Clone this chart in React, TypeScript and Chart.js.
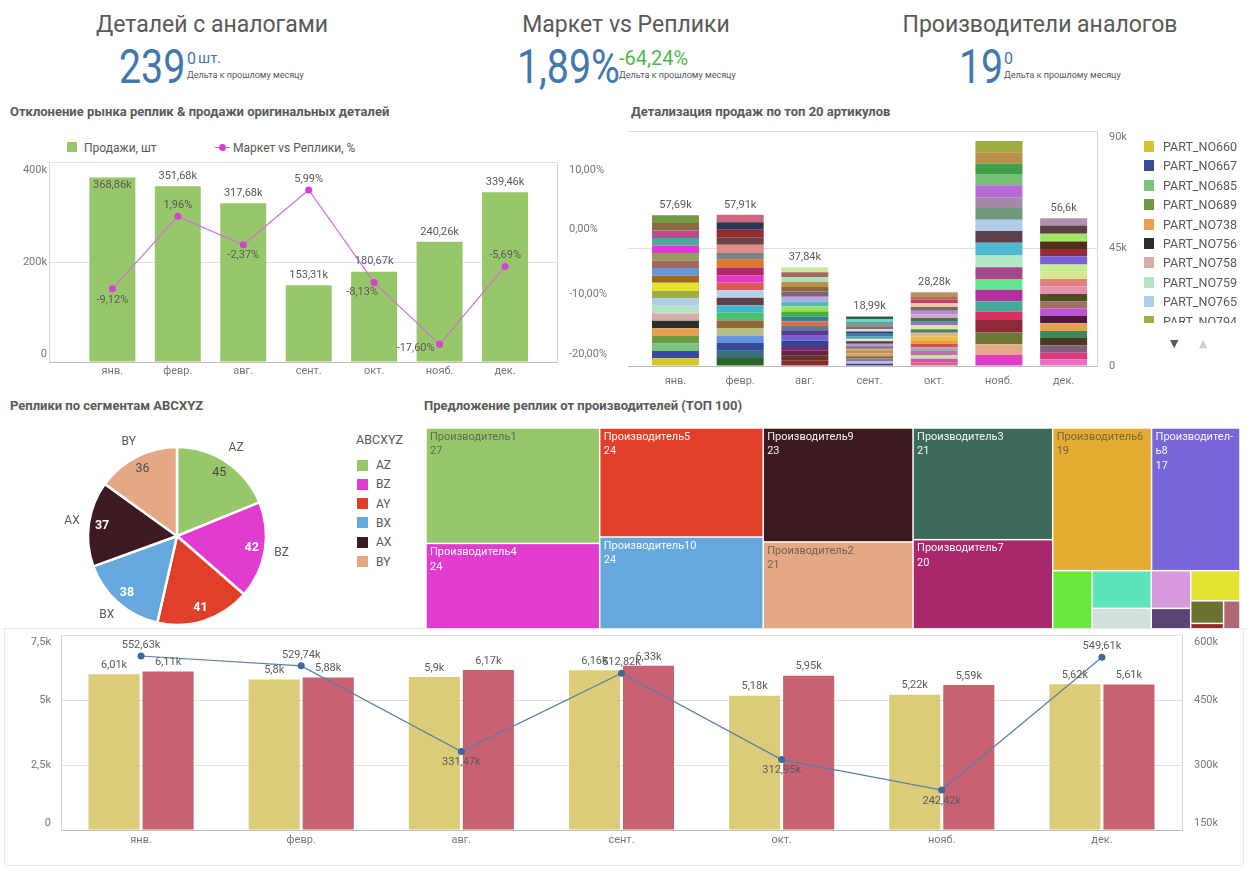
import React, { useEffect, useRef } from 'react';
import { Chart, registerables } from 'chart.js';

Chart.register(...registerables);

const FONT = 'Roboto, "Noto Sans", "DejaVu Sans", sans-serif';
const TXT = '#595959';
const AXIS = '#777777';
const GRID = '#e0e0e0';
const FRAME = '#d6d6d6';
const AXIS_LINE = '#bcbcbc';

// ---------------- KPI ----------------
const kpiTitles = ['Деталей с аналогами', 'Маркет vs Реплики', 'Производители аналогов'];
const kpiMain = ['239', '1,89%', '19'];
const kpiDelta = ['0', '-64,24%', '0'];
const kpiUnit = 'шт.';
const kpiNote = 'Дельта к прошлому месяцу';

// ---------------- Chart 1: sales vs market deviation ----------------
const months = ['янв.', 'февр.', 'авг.', 'сент.', 'окт.', 'нояб.', 'дек.'];
const salesUnits = [368860, 351680, 317680, 153310, 180670, 240260, 339460];
const marketVsReplicasPct = [-9.12, 1.96, -2.37, 5.99, -8.13, -17.6, -5.69];
const pctAxisTicks = [10, 0, -10, -20];

// ---------------- Chart 2: top 20 parts ----------------
const partNames = [
  'PART_NO660', 'PART_NO667', 'PART_NO685', 'PART_NO689', 'PART_NO738',
  'PART_NO756', 'PART_NO758', 'PART_NO759', 'PART_NO765', 'PART_NO794',
  'PART_NO801', 'PART_NO812', 'PART_NO826', 'PART_NO833', 'PART_NO847',
  'PART_NO852', 'PART_NO869', 'PART_NO871', 'PART_NO888', 'PART_NO903',
];
const topPartsJan = [2950, 2800, 2900, 2850, 2950, 2900, 2800, 2950, 2850, 2800, 3100, 2750, 2900, 2850, 2950, 2850, 2900, 2800, 2950, 2890];
const topPartsFeb = [3050, 2800, 2950, 2850, 2900, 2850, 2950, 2900, 2850, 2950, 2900, 2850, 2950, 2900, 2850, 2900, 2950, 2850, 2900, 2810];
const topPartsAug = [2050, 1850, 1950, 1800, 2000, 1900, 1850, 1950, 1750, 1900, 1850, 2000, 1800, 1900, 1950, 1800, 1850, 1900, 1850, 1940];
const topPartsSep = [900, 1000, 950, 900, 1000, 950, 900, 950, 1000, 900, 950, 1000, 950, 900, 950, 1000, 900, 950, 950, 990];
const topPartsOct = [1450, 1350, 1400, 1500, 1350, 1450, 1400, 1350, 1450, 1400, 1500, 1350, 1400, 1450, 1350, 1400, 1450, 1400, 1350, 1530];
const topPartsNov = [4230, 4100, 4490, 4750, 3340, 3850, 4490, 4100, 4490, 4490, 4870, 4490, 4360, 4490, 4100, 4620, 4230, 4100, 4230, 4360];
const topPartsDec = [2560, 2560, 2820, 2820, 2690, 2950, 2820, 2820, 2690, 2820, 2950, 2820, 2820, 2690, 3200, 2820, 2820, 2950, 3200, 2780];
const stackAxisTicks = [0, 45000, 90000];

const colorsJan = ['#d4c42e', '#3a4a94', '#7cc47c', '#6e9a44', '#e8a050', '#283028', '#d8aca4', '#b4e4c4', '#b0cce8', '#a0ac44', '#e4e430', '#a06a1c', '#6894d8', '#a06860', '#989c60', '#e038d4', '#50a898', '#b0508c', '#8c6a3c', '#749844'];
const colorsFeb = ['#2c6428', '#3c7078', '#34489c', '#6494dc', '#b8c080', '#906838', '#48c070', '#48b4c8', '#604048', '#b4d0e8', '#e05858', '#e038c8', '#b02868', '#e07828', '#808080', '#e08c84', '#684448', '#982830', '#283850', '#d06880'];
const colorsAug = ['#902830', '#603820', '#682040', '#702878', '#304490', '#7860d0', '#583898', '#607890', '#d87050', '#3c8090', '#40b040', '#a0e060', '#50b8c8', '#b4a8e0', '#806080', '#8c6838', '#b89048', '#b0dcc0', '#a06a60', '#d0e8a0'];
const colorsSep = ['#303c80', '#c8b0d8', '#7880a0', '#806040', '#e0a060', '#b89050', '#c0b070', '#906080', '#b0a0d0', '#404040', '#e8e0d0', '#48a0b0', '#3c78b8', '#284068', '#d8d8e8', '#807060', '#909090', '#50a8a0', '#70d8c0', '#306040'];
const colorsOct = ['#e06080', '#d050c0', '#c8e0a0', '#c070b0', '#a8a8b0', '#d85050', '#e8a040', '#e8c030', '#e8b090', '#408860', '#e8e0a0', '#9070c8', '#387850', '#e0a0c0', '#a890d8', '#806858', '#e8c8b0', '#d03868', '#a87050', '#b89060'];
const colorsNov = ['#e03ccc', '#e4a888', '#6c7830', '#902838', '#d83060', '#48a898', '#b030a0', '#60e890', '#a84888', '#b0e8c8', '#50b8d0', '#604048', '#b0cce8', '#709878', '#a888a8', '#b868d8', '#78c078', '#40a048', '#b89048', '#a0ac40'];
const colorsDec = ['#e870c0', '#e03880', '#806078', '#4c3820', '#3c8858', '#e8a050', '#501840', '#c050d8', '#a07060', '#4c5020', '#e890b0', '#e08078', '#d8e890', '#c8ec90', '#7860d8', '#982838', '#503018', '#a0e860', '#604048', '#b090b0'];

// ---------------- Chart 3: pie ----------------
const segments = ['AZ', 'BZ', 'AY', 'BX', 'AX', 'BY'];
const segmentCounts = [45, 42, 41, 38, 37, 36];
const segmentColors = ['#98c66a', '#e03cd0', '#e0402a', '#64a8dc', '#3c1a20', '#e4a884'];

// ---------------- Chart 4: treemap ----------------
const producers = [
  'Производитель1', 'Производитель4', 'Производитель5', 'Производитель10', 'Производитель9',
  'Производитель2', 'Производитель3', 'Производитель7', 'Производитель6', 'Производитель8',
  'Производитель11', 'Производитель12', 'Производитель13', 'Производитель14', 'Производитель15',
  'Производитель16', 'Производитель17', 'Производитель18', 'Производитель19',
];
const producerCounts = [27, 24, 24, 24, 23, 21, 21, 20, 19, 17, 4, 3, 3, 2, 2, 2, 1, 1, 1];
const producerColors = [
  '#98c66a', '#e03cd0', '#e0402a', '#64a8dc', '#3c1a20', '#e4a884', '#3c6a58', '#a8286a', '#e4ac30', '#7866d8',
  '#68e840', '#5ce4bc', '#d4e0dc', '#d898dc', '#5c4478', '#e4e430', '#6c7030', '#902828', '#b06878',
];

// ---------------- Chart 5: bottom combo ----------------
const originalPrice = [6010, 5800, 5900, 6160, 5180, 5220, 5620];
const replicaPrice = [6110, 5880, 6170, 6330, 5950, 5590, 5610];
const marketVolume = [552630, 529740, 331470, 512820, 312950, 242420, 549610];
const priceAxisTicks = [0, 2500, 5000, 7500];
const volumeAxisTicks = [150000, 300000, 450000, 600000];

// label placement styles (not data)
const pctLabelPlace = ['below', 'above', 'below', 'above', 'belowLeft', 'left', 'above'];
const volLabelPlace = ['above', 'above', 'below', 'above', 'below', 'below', 'above'];
const PLACE: Record<string, [number, number]> = {
  above: [0, -11], below: [0, 11], belowLeft: [-12, 10], left: [-24, 4],
};

function fmtK(v: number): string {
  if (v === 0) return '0';
  const s = (v / 1000).toFixed(2).replace(/\.?0+$/, '');
  return s.replace('.', ',') + 'k';
}
function fmtPct(v: number): string {
  return v.toFixed(2).replace('.', ',') + '%';
}
const clamp = (v: number, a: number, b: number) => Math.max(a, Math.min(b, v));
function lum(hex: string): number {
  const n = parseInt(hex.slice(1), 16);
  const r = (n >> 16) & 255, g = (n >> 8) & 255, b = n & 255;
  return (0.299 * r + 0.587 * g + 0.114 * b) / 255;
}
const sum = (a: number[]) => a.reduce((s, v) => s + v, 0);

function drawYLabels(ctx: CanvasRenderingContext2D, scale: any, ca: any, side: 'left' | 'right', pad: number,
  fmt: (v: number) => string, clampTop: number, clampBottom: number) {
  ctx.textAlign = side === 'left' ? 'right' : 'left';
  const x = side === 'left' ? ca.left - pad : ca.right + pad;
  scale.ticks.forEach((t: any) => {
    const py = clamp(scale.getPixelForValue(t.value), ca.top + clampTop, ca.bottom - clampBottom);
    ctx.fillText(fmt(t.value), x, py);
  });
}

// ---------------- builders ----------------
function buildCombo(canvas: HTMLCanvasElement) {
  const plugin = {
    id: 'comboLabels',
    afterDraw(chart: any) {
      const { ctx, chartArea: ca } = chart;
      const { x, y, y2 } = chart.scales;
      ctx.save();
      ctx.font = `11px ${FONT}`;
      ctx.textBaseline = 'middle';
      ctx.fillStyle = AXIS;
      drawYLabels(ctx, y, ca, 'left', 2, fmtK, 8, 8);
      drawYLabels(ctx, y2, ca, 'right', 12, fmtPct, 8, 8);
      ctx.textAlign = 'center';
      months.forEach((m, i) => ctx.fillText(m, x.getPixelForValue(i), ca.bottom + 9));
      ctx.fillStyle = TXT;
      salesUnits.forEach((v, i) => {
        const px = x.getPixelForValue(i);
        const py = y.getPixelForValue(v);
        const inside = py - ca.top < 20;
        ctx.fillText(fmtK(v), px, inside ? py + 8 : py - 10);
      });
      marketVsReplicasPct.forEach((v, i) => {
        const [dx, dy] = PLACE[pctLabelPlace[i]];
        ctx.fillText(fmtPct(v), x.getPixelForValue(i) + dx, y2.getPixelForValue(v) + dy);
      });
      ctx.restore();
    },
  };
  return new Chart(canvas, {
    type: 'bar',
    data: {
      datasets: [
        {
          type: 'line', label: 'Маркет vs Реплики, %',
          data: marketVsReplicasPct.map((v, i) => ({ x: i, y: v })),
          yAxisID: 'y2', borderColor: '#cf72d4', borderWidth: 1.2,
          pointRadius: 3.5, pointBackgroundColor: '#d83fd2', pointBorderWidth: 0, order: 0,
        } as any,
        {
          type: 'bar', label: 'Продажи, шт',
          data: salesUnits.map((v, i) => ({ x: i, y: v })),
          yAxisID: 'y', backgroundColor: '#98c66a', borderWidth: 0,
          categoryPercentage: 0.8, barPercentage: 0.878, order: 1,
        } as any,
      ],
    },
    options: {
      animation: false, responsive: false, maintainAspectRatio: false,
      layout: { padding: { top: 7, left: 0, right: 0, bottom: 0 } },
      plugins: { legend: { display: false }, tooltip: { enabled: false } },
      scales: {
        x: {
          type: 'linear', min: -0.968, max: 6.794, offset: false, bounds: 'data',
          grid: { display: false, offset: false }, border: { display: true, color: AXIS_LINE },
          ticks: { display: false },
          afterBuildTicks: (s: any) => { s.ticks = months.map((_, i) => ({ value: i })); },
          afterFit: (s: any) => { s.height = 18; },
        },
        y: {
          position: 'left', min: 0, max: 400000,
          ticks: { display: false, stepSize: 200000 },
          grid: { color: GRID, drawTicks: false }, border: { display: true, color: FRAME },
          afterFit: (s: any) => { s.width = 49; },
        },
        y2: {
          position: 'right', min: -20.3, max: 10.27,
          ticks: { display: false },
          grid: { display: false }, border: { display: true, color: FRAME },
          afterBuildTicks: (s: any) => { s.ticks = pctAxisTicks.map((v) => ({ value: v })); },
          afterFit: (s: any) => { s.width = 58; },
        },
      },
    } as any,
    plugins: [plugin],
  });
}

function buildStack(canvas: HTMLCanvasElement) {
  const monthly = [topPartsJan, topPartsFeb, topPartsAug, topPartsSep, topPartsOct, topPartsNov, topPartsDec];
  const monthColors = [colorsJan, colorsFeb, colorsAug, colorsSep, colorsOct, colorsNov, colorsDec];
  const plugin = {
    id: 'stackLabels',
    afterDraw(chart: any) {
      const { ctx, chartArea: ca } = chart;
      const { x, y } = chart.scales;
      ctx.save();
      ctx.font = `11px ${FONT}`;
      ctx.textBaseline = 'middle';
      ctx.fillStyle = AXIS;
      drawYLabels(ctx, y, ca, 'right', 12, fmtK, 6, 0);
      ctx.textAlign = 'center';
      months.forEach((m, i) => ctx.fillText(m, x.getPixelForValue(i), ca.bottom + 15));
      ctx.fillStyle = TXT;
      monthly.forEach((arr, i) => {
        const total = Math.round(sum(arr));
        const py = y.getPixelForValue(total);
        if (py - ca.top >= 16) ctx.fillText(fmtK(total), x.getPixelForValue(i), py - 10);
      });
      ctx.restore();
    },
  };
  return new Chart(canvas, {
    type: 'bar',
    data: {
      datasets: partNames.map((name, k) => ({
        label: name,
        data: monthly.map((arr, m) => ({ x: m, y: arr[k] })),
        backgroundColor: monthColors.map((cols) => cols[k]),
        borderWidth: 0,
        categoryPercentage: 0.8, barPercentage: 0.908,
      })),
    },
    options: {
      animation: false, responsive: false, maintainAspectRatio: false,
      layout: { padding: { top: 11, left: 8, right: 0, bottom: 0 } },
      plugins: { legend: { display: false }, tooltip: { enabled: false } },
      scales: {
        x: {
          type: 'linear', stacked: true, min: -0.734, max: 6.516, offset: false, bounds: 'data',
          grid: { display: false, offset: false }, border: { display: true, color: AXIS_LINE },
          ticks: { display: false },
          afterBuildTicks: (s: any) => { s.ticks = months.map((_, i) => ({ value: i })); },
          afterFit: (s: any) => { s.height = 29; },
        },
        y: {
          position: 'right', stacked: true, min: 0, max: 90000,
          ticks: { display: false },
          afterBuildTicks: (s: any) => { s.ticks = stackAxisTicks.map((v) => ({ value: v })); },
          grid: { color: GRID, drawTicks: false }, border: { display: true, color: FRAME },
          afterFit: (s: any) => { s.width = 48; },
        },
      },
    } as any,
    plugins: [plugin],
  });
}

function buildPie(canvas: HTMLCanvasElement) {
  const plugin = {
    id: 'pieLabels',
    afterDraw(chart: any) {
      const { ctx } = chart;
      const meta = chart.getDatasetMeta(0);
      ctx.save();
      ctx.textAlign = 'center';
      ctx.textBaseline = 'middle';
      meta.data.forEach((arc: any, i: number) => {
        const p = arc.getProps(['x', 'y', 'startAngle', 'endAngle', 'outerRadius'], true);
        const mid = (p.startAngle + p.endAngle) / 2;
        const rIn = p.outerRadius * 0.85;
        const light = lum(segmentColors[i]) > 0.65;
        ctx.font = `${light ? '' : 'bold '}12.5px ${FONT}`;
        ctx.fillStyle = light ? '#4a4a4a' : '#ffffff';
        ctx.fillText(String(segmentCounts[i]), p.x + Math.cos(mid) * rIn, p.y + Math.sin(mid) * rIn);
        const rOut = p.outerRadius + 17;
        ctx.font = `12px ${FONT}`;
        ctx.fillStyle = TXT;
        ctx.fillText(segments[i], p.x + Math.cos(mid) * rOut, p.y + Math.sin(mid) * rOut);
      });
      ctx.restore();
    },
  };
  return new Chart(canvas, {
    type: 'pie',
    data: {
      labels: segments,
      datasets: [{ data: segmentCounts, backgroundColor: segmentColors, borderColor: '#ffffff', borderWidth: 2.5 }],
    },
    options: {
      animation: false, responsive: false, maintainAspectRatio: false,
      radius: 89,
      layout: { padding: 0 },
      plugins: { legend: { display: false }, tooltip: { enabled: false } },
    } as any,
    plugins: [plugin],
  });
}

type R = { x: number; y: number; w: number; h: number };
function worst(row: number[], side: number): number {
  const s = sum(row);
  const mx = Math.max(...row), mn = Math.min(...row);
  return Math.max((side * side * mx) / (s * s), (s * s) / (side * side * mn));
}
function squarify(values: number[], x: number, y: number, w: number, h: number): R[] {
  const total = sum(values);
  const k = (w * h) / total;
  const areas = values.map((v) => v * k);
  const out: R[] = [];
  let rx = x, ry = y, rw = w, rh = h;
  let i = 0;
  while (i < areas.length) {
    const side = Math.min(rw, rh);
    let row = [areas[i]];
    let best = worst(row, side);
    let j = i + 1;
    while (j < areas.length) {
      const next = [...row, areas[j]];
      const wv = worst(next, side);
      if (wv <= best) { row = next; best = wv; j++; } else break;
    }
    const rs = sum(row);
    if (rw >= rh) {
      const cw = rs / rh;
      let cy = ry;
      row.forEach((a) => { const hh = a / cw; out.push({ x: rx, y: cy, w: cw, h: hh }); cy += hh; });
      rx += cw; rw -= cw;
    } else {
      const rhh = rs / rw;
      let cx = rx;
      row.forEach((a) => { const ww = a / rhh; out.push({ x: cx, y: ry, w: ww, h: rhh }); cx += ww; });
      ry += rhh; rh -= rhh;
    }
    i = j;
  }
  return out;
}

function buildTreemap(canvas: HTMLCanvasElement) {
  const plugin = {
    id: 'treemap',
    afterDraw(chart: any) {
      const { ctx } = chart;
      const { x, y } = chart.scales;
      const x0 = x.getPixelForValue(0), x1 = x.getPixelForValue(1);
      const y0 = y.getPixelForValue(1), y1 = y.getPixelForValue(0);
      const rects = squarify(producerCounts, x0, y0, x1 - x0, y1 - y0);
      ctx.save();
      ctx.font = `11px ${FONT}`;
      ctx.textBaseline = 'middle';
      ctx.textAlign = 'left';
      rects.forEach((r, i) => {
        ctx.fillStyle = producerColors[i];
        ctx.fillRect(r.x + 0.75, r.y + 0.75, r.w - 1.5, r.h - 1.5);
        if (r.w > 60 && r.h > 40) {
          const light = lum(producerColors[i]) > 0.65;
          ctx.fillStyle = light ? 'rgba(70,70,70,0.72)' : 'rgba(255,255,255,0.95)';
          const name = producers[i];
          const maxW = r.w - 7;
          const lines: string[] = [];
          if (ctx.measureText(name).width <= maxW) lines.push(name);
          else {
            let n = name.length - 1;
            while (n > 1 && ctx.measureText(name.slice(0, n) + '-').width > maxW) n--;
            lines.push(name.slice(0, n) + '-', name.slice(n));
          }
          lines.push(String(producerCounts[i]));
          lines.forEach((ln, k) => ctx.fillText(ln, r.x + 4, r.y + 9 + k * 14.5));
        }
      });
      ctx.restore();
    },
  };
  return new Chart(canvas, {
    type: 'scatter',
    data: { datasets: [] },
    options: {
      animation: false, responsive: false, maintainAspectRatio: false,
      layout: { padding: 0 },
      plugins: { legend: { display: false }, tooltip: { enabled: false } },
      scales: {
        x: { type: 'linear', min: 0, max: 1, display: false },
        y: { type: 'linear', min: 0, max: 1, display: false },
      },
    } as any,
    plugins: [plugin],
  });
}

function buildBottom(canvas: HTMLCanvasElement) {
  const plugin = {
    id: 'bottomLabels',
    afterDraw(chart: any) {
      const { ctx, chartArea: ca } = chart;
      const { x, y, y2 } = chart.scales;
      ctx.save();
      ctx.font = `11px ${FONT}`;
      ctx.textBaseline = 'middle';
      ctx.fillStyle = AXIS;
      drawYLabels(ctx, y, ca, 'left', 10, fmtK, 7, 7);
      drawYLabels(ctx, y2, ca, 'right', 12, fmtK, 7, 7);
      ctx.textAlign = 'center';
      months.forEach((m, i) => ctx.fillText(m, x.getPixelForValue(i), ca.bottom + 10));
      ctx.fillStyle = TXT;
      [originalPrice, replicaPrice].forEach((arr, d) => {
        const meta = chart.getDatasetMeta(d + 1);
        arr.forEach((v, i) => ctx.fillText(fmtK(v), meta.data[i].x, y.getPixelForValue(v) - 9));
      });
      marketVolume.forEach((v, i) => {
        const [dx, dy] = PLACE[volLabelPlace[i]];
        ctx.fillText(fmtK(v), x.getPixelForValue(i) + dx, y2.getPixelForValue(v) + dy);
      });
      ctx.restore();
    },
  };
  return new Chart(canvas, {
    type: 'bar',
    data: {
      labels: months,
      datasets: [
        {
          type: 'line', label: 'Объём рынка', data: marketVolume, yAxisID: 'y2',
          borderColor: '#5a7fa3', borderWidth: 1.2, pointRadius: 3.5,
          pointBackgroundColor: '#3f6a98', pointBorderWidth: 0, order: 0,
        } as any,
        {
          type: 'bar', label: 'Оригинал', data: originalPrice, yAxisID: 'y',
          backgroundColor: '#dccb78', categoryPercentage: 0.675, barPercentage: 0.945, order: 1,
        } as any,
        {
          type: 'bar', label: 'Реплика', data: replicaPrice, yAxisID: 'y',
          backgroundColor: '#c86273', categoryPercentage: 0.675, barPercentage: 0.945, order: 1,
        } as any,
      ],
    },
    options: {
      animation: false, responsive: false, maintainAspectRatio: false,
      layout: { padding: { top: 6.5, left: 0, right: 0, bottom: 0 } },
      plugins: { legend: { display: false }, tooltip: { enabled: false } },
      scales: {
        x: {
          type: 'category', offset: true,
          grid: { display: false }, border: { display: true, color: AXIS_LINE },
          ticks: { display: false },
          afterFit: (s: any) => { s.height = 35; },
        },
        y: {
          position: 'left', min: 0, max: 7500,
          ticks: { display: false },
          afterBuildTicks: (s: any) => { s.ticks = priceAxisTicks.map((v) => ({ value: v })); },
          grid: { color: GRID, drawTicks: false }, border: { display: true, color: FRAME },
          afterFit: (s: any) => { s.width = 56; },
        },
        y2: {
          position: 'right', min: 150000, max: 600000,
          ticks: { display: false },
          afterBuildTicks: (s: any) => { s.ticks = volumeAxisTicks.map((v) => ({ value: v })); },
          grid: { display: false }, border: { display: true, color: FRAME },
          afterFit: (s: any) => { s.width = 61; },
        },
      },
    } as any,
    plugins: [plugin],
  });
}

// ---------------- HTML helpers ----------------
type TP = { x: number; b: number; size: number; color?: string; weight?: number; w?: number; sx?: number; children: React.ReactNode };
function T({ x, b, size, color = TXT, weight = 400, w, sx, children }: TP) {
  const style: React.CSSProperties = {
    position: 'absolute', top: b - 0.842 * size, fontSize: size, lineHeight: `${size}px`,
    color, fontWeight: weight, whiteSpace: 'nowrap',
  };
  if (w) { style.left = x - w / 2; style.width = w; style.textAlign = 'center'; } else style.left = x;
  if (sx) { style.transform = `scaleX(${sx})`; style.transformOrigin = 'left center'; }
  return <div style={style}>{children}</div>;
}
const box = (left: number, top: number, width: number, height: number, bg: string, extra: React.CSSProperties = {}) => (
  <div style={{ position: 'absolute', left, top, width, height, background: bg, ...extra }} />
);

export default function App() {
  const r1 = useRef<HTMLCanvasElement>(null);
  const r2 = useRef<HTMLCanvasElement>(null);
  const r3 = useRef<HTMLCanvasElement>(null);
  const r4 = useRef<HTMLCanvasElement>(null);
  const r5 = useRef<HTMLCanvasElement>(null);

  useEffect(() => {
    Chart.defaults.font.family = FONT;
    const charts = [
      buildCombo(r1.current!),
      buildStack(r2.current!),
      buildPie(r3.current!),
      buildTreemap(r4.current!),
      buildBottom(r5.current!),
    ];
    return () => charts.forEach((c) => c.destroy());
  }, []);

  const KB = '#4477aa';
  const cv = (left: number, top: number, width: number, height: number) =>
    ({ position: 'absolute' as const, left, top, width, height });

  return (
    <div style={{ position: 'absolute', left: 0, top: 0, width: 1249, height: 870, background: '#fff', fontFamily: FONT, overflow: 'hidden' }}>
      {/* KPI row */}
      <T x={212} w={420} b={32} size={23}>{kpiTitles[0]}</T>
      <T x={626} w={420} b={32} size={23}>{kpiTitles[1]}</T>
      <T x={1040} w={420} b={32} size={23}>{kpiTitles[2]}</T>

      <T x={119} b={83} size={48} color={KB} sx={0.82}>{kpiMain[0]}</T>
      <T x={187} b={64} size={16} color={KB}>{kpiDelta[0]}</T>
      <T x={198} b={64} size={15} color={KB}>{kpiUnit}</T>
      <T x={187} b={79} size={9}>{kpiNote}</T>

      <T x={517} b={83} size={48} color={KB} sx={0.82}>{kpiMain[1]}</T>
      <T x={619} b={65} size={20} color="#4fb54f">{kpiDelta[1]}</T>
      <T x={619} b={79} size={9}>{kpiNote}</T>

      <T x={959} b={83} size={48} color={KB} sx={0.82}>{kpiMain[2]}</T>
      <T x={1004} b={64} size={16} color={KB}>{kpiDelta[2]}</T>
      <T x={1004} b={79} size={9}>{kpiNote}</T>

      {/* Chart 1 */}
      <T x={10} b={116} size={13} weight={700}>Отклонение рынка реплик &amp; продажи оригинальных деталей</T>
      {box(67, 142, 10, 10, '#98c66a')}
      <T x={84} b={152} size={12}>Продажи, шт</T>
      {box(215, 146.5, 15, 1.5, '#cf72d4')}
      {box(219, 143.5, 7, 7, '#d83fd2', { borderRadius: '50%' })}
      <T x={233} b={152} size={12}>Маркет vs Реплики, %</T>
      <canvas ref={r1} width={615} height={225} style={cv(0, 155, 615, 225)} />

      {/* Chart 2 */}
      <T x={631} b={116} size={13} weight={700}>Детализация продаж по топ 20 артикулов</T>
      <canvas ref={r2} width={525} height={275} style={cv(620, 120, 525, 275)} />
      <div style={{ position: 'absolute', left: 1140, top: 136, width: 105, height: 187, overflow: 'hidden' }}>
        {partNames.map((n, k) => (
          <div key={n} style={{ position: 'absolute', left: 0, top: 5 + k * 19.4, height: 12, width: 105 }}>
            <div style={{ position: 'absolute', left: 4, top: 0, width: 10, height: 11, background: colorsJan[k] }} />
            <div style={{ position: 'absolute', left: 23, top: -1, fontSize: 12.5, lineHeight: '13px', color: TXT, whiteSpace: 'nowrap' }}>{n}</div>
          </div>
        ))}
      </div>
      <T x={1170} b={347} size={11} color="#595959">▼</T>
      <T x={1199} b={347} size={11} color="#cfcfcf">▲</T>

      {/* Chart 3 */}
      <T x={10} b={410} size={13} weight={700}>Реплики по сегментам ABCXYZ</T>
      <canvas ref={r3} width={294} height={232} style={cv(30, 420, 294, 232)} />
      <T x={356} b={445} size={12.5}>ABCXYZ</T>
      {segments.map((s, k) => (
        <React.Fragment key={s}>
          {box(357, 459.5 + k * 19.3, 11, 11, segmentColors[k])}
          <T x={376} b={469.3 + k * 19.3} size={12}>{s}</T>
        </React.Fragment>
      ))}

      {/* Chart 4 */}
      <T x={424} b={410} size={13} weight={700}>Предложение реплик от производителей (ТОП 100)</T>
      <canvas ref={r4} width={814} height={218} style={cv(426, 428, 814, 218)} />

      {/* Chart 5 */}
      <div style={{ position: 'absolute', left: 4, top: 628, width: 1240, height: 238, background: '#fff', border: '1px solid #e6e6e6', boxSizing: 'border-box', zIndex: 2 }}>
        <canvas ref={r5} width={1238} height={236} style={cv(0, 0, 1238, 236)} />
      </div>
    </div>
  );
}
